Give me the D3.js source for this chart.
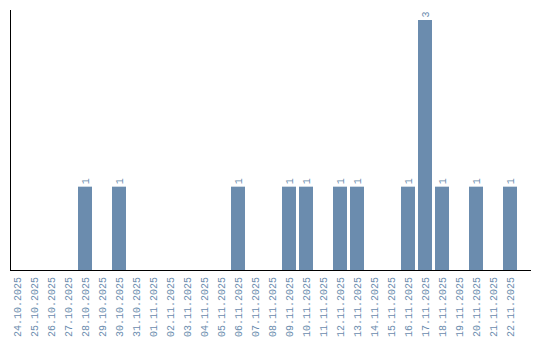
<!DOCTYPE html>
<html>
<head>
<meta charset="utf-8">
<script src="https://cdn.jsdelivr.net/npm/d3@7"></script>
<style>
  html, body { margin: 0; padding: 0; background: #fff; }
  svg { display: block; }
</style>
</head>
<body>
<svg id="chart" width="540" height="340"></svg>
<script>
// days shown on the x axis
const days = [
  "24.10.2025", "25.10.2025", "26.10.2025", "27.10.2025", "28.10.2025",
  "29.10.2025", "30.10.2025", "31.10.2025", "01.11.2025", "02.11.2025",
  "03.11.2025", "04.11.2025", "05.11.2025", "06.11.2025", "07.11.2025",
  "08.11.2025", "09.11.2025", "10.11.2025", "11.11.2025", "12.11.2025",
  "13.11.2025", "14.11.2025", "15.11.2025", "16.11.2025", "17.11.2025",
  "18.11.2025", "19.11.2025", "20.11.2025", "21.11.2025", "22.11.2025"
];
// count per day
const counts = [
  0, 0, 0, 0, 1,
  0, 1, 0, 0, 0,
  0, 0, 0, 1, 0,
  0, 1, 1, 0, 1,
  1, 0, 0, 1, 3,
  1, 0, 1, 0, 1
];

const data = days.map((d, i) => ({ day: d, n: counts[i] }));
const C = { bar: "#6b8cae", text: "#6b8cae", axis: "#000" };
const FONT = "Liberation Mono, monospace";

const svg = d3.select("#chart");
const x0 = 10, xEnd = 531, yTop = 10, yBase = 270;

const x = d3.scaleBand()
  .domain(days)
  .range([x0, 517])
  .paddingInner(3 / 17)
  .paddingOuter(0);
const y = d3.scaleLinear()
  .domain([0, d3.max(counts)])
  .range([yBase, 20]);

// bars
svg.selectAll(".bar")
  .data(data.filter(d => d.n > 0))
  .enter().append("rect")
  .attr("class", "bar")
  .attr("x", d => x(d.day))
  .attr("width", x.bandwidth())
  .attr("y", d => y(d.n))
  .attr("height", d => yBase - y(d.n))
  .attr("fill", C.bar);

// value labels
svg.selectAll(".val")
  .data(data.filter(d => d.n > 0))
  .enter().append("text")
  .attr("class", "val")
  .attr("transform", d => `translate(${x(d.day) + x.bandwidth() / 2},${y(d.n) - 2.5}) rotate(-90)`)
  .attr("dy", "0.35em")
  .attr("font-family", FONT)
  .attr("font-size", "10px")
  .attr("fill", C.text)
  .text(d => d.n);

// axes lines
svg.append("line")
  .attr("x1", x0 + 0.5).attr("x2", x0 + 0.5)
  .attr("y1", yTop).attr("y2", yBase)
  .attr("stroke", C.axis);
svg.append("line")
  .attr("x1", x0).attr("x2", xEnd)
  .attr("y1", yBase + 0.5).attr("y2", yBase + 0.5)
  .attr("stroke", C.axis);

// day labels
svg.selectAll(".tick")
  .data(days)
  .enter().append("text")
  .attr("class", "tick")
  .attr("transform", d => `translate(${x(d) + x.bandwidth() / 2},277) rotate(-90)`)
  .attr("dy", "0.35em")
  .attr("text-anchor", "end")
  .attr("font-family", FONT)
  .attr("font-size", "10px")
  .attr("fill", C.text)
  .text(d => d);
</script>
</body>
</html>
